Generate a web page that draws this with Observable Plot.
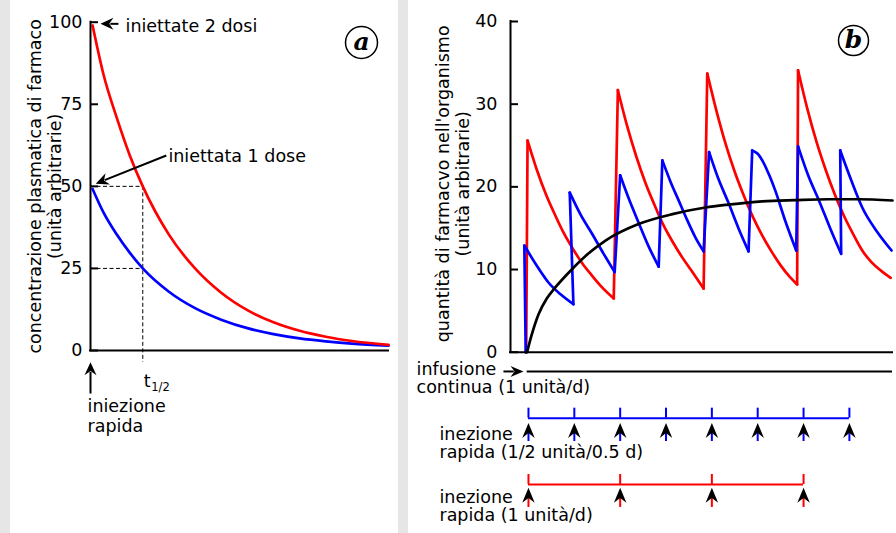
<!DOCTYPE html>
<html><head><meta charset="utf-8">
<script src="https://cdn.jsdelivr.net/npm/d3@7"></script>
<script src="https://cdn.jsdelivr.net/npm/@observablehq/plot@0.6"></script>
<style>
html,body{margin:0;padding:0;background:#e6e6e6;}
#root{position:relative;width:896px;height:533px;background:#e6e6e6;overflow:hidden;}
.panel{position:absolute;top:0;height:533px;background:#fff;}
#pa{left:10px;width:388px;}
#pb{left:408px;width:488px;}
svg{display:block;}
</style></head><body>
<div id="root"><div class="panel" id="pa"></div><div class="panel" id="pb"></div></div>
<script>
// ---------- DATA: panel a (time in half-lives) ----------
const halfLives = [0.04, 0.25, 0.5, 0.75, 1, 1.5, 2, 2.5, 3, 3.5, 4, 4.5, 5, 5.7];
const red2Doses = [99, 84, 71, 59.5, 50, 35.3, 25, 17.6, 12.3, 8.6, 6.0, 4.2, 2.9, 1.7];
const blue1Dose = [49.2, 42, 35.4, 29.8, 25, 17.9, 12.9, 9.4, 6.8, 5.0, 3.7, 2.8, 2.1, 1.5];
const yTicksA = [0, 25, 50, 75, 100];

// ---------- DATA: panel b (time in days) ----------
const redT = [-0.025, -0.01, 0.09, 0.19, 0.29, 0.39, 0.49, 0.59, 0.69, 0.79, 0.93,
  0.975, 1.075, 1.175, 1.275, 1.375, 1.475, 1.575, 1.675, 1.775, 1.91,
  1.95, 2.05, 2.15, 2.25, 2.35, 2.45, 2.55, 2.65, 2.75, 2.85, 2.93,
  2.94, 3.04, 3.14, 3.24, 3.34, 3.44, 3.54, 3.64, 3.74, 3.84, 3.95];
const redV = [0, 25.6, 22.1, 19.1, 16.6, 14.3, 12.4, 10.7, 9.3, 8.0, 6.5,
  31.7, 27.4, 23.7, 20.5, 17.8, 15.3, 13.3, 11.5, 9.9, 7.7,
  33.7, 29.2, 25.2, 21.8, 18.9, 16.3, 14.1, 12.2, 10.5, 9.1, 8.2,
  34.1, 29.5, 25.5, 22.1, 19.1, 16.5, 14.3, 12.3, 10.9, 9.9, 9.0];
const blueT = [-0.03, -0.045, 0.1, 0.22, 0.35, 0.49,
  0.45, 0.57, 0.695, 0.82, 0.94,
  1.0, 1.1, 1.2, 1.31, 1.42,
  1.46, 1.55, 1.64, 1.73, 1.82, 1.91,
  1.97, 2.07, 2.18, 2.29, 2.40,
  2.44, 2.50, 2.56, 2.63, 2.69, 2.80, 2.92,
  2.94, 3.05, 3.17, 3.29, 3.41,
  3.40, 3.52, 3.64, 3.80, 3.96];
const blueV = [0, 12.9, 10.3, 8.4, 7.0, 5.8,
  19.3, 16.6, 14.3, 11.9, 9.7,
  21.4, 18.4, 15.7, 12.8, 10.35,
  23.2, 20.6, 18.3, 16.0, 13.9, 12.2,
  24.2, 21.0, 18.1, 15.0, 12.2,
  24.4, 24.0, 23.0, 21.3, 19.6, 15.9, 12.3,
  24.9, 21.4, 18.3, 15.0, 11.9,
  24.4, 20.8, 17.5, 14.6, 12.3];
const blackT = [-0.015, 0.03, 0.11, 0.2, 0.29, 0.48, 0.65, 0.84, 1.2, 1.57, 1.93, 2.18, 2.55, 2.91, 3.27, 3.6, 3.97];
const blackV = [0, 1.9, 4.6, 6.5, 7.8, 10.1, 11.9, 13.5, 15.5, 16.7, 17.5, 17.85, 18.25, 18.4, 18.5, 18.5, 18.35];
const blueDoseT = [0, 0.5, 1, 1.5, 2, 2.5, 3, 3.5];
const redDoseT = [0, 1, 2, 3];
const yTicksB = [0, 10, 20, 30, 40];

// ---------- helpers ----------
const BLUE = "#0000ff", RED = "#ff0000";
const FS = 17.5;
const rows = (T, V) => T.map((t, i) => ({t, v: V[i]}));
function sawtooth(T, V) {
  const decays = [], jumps = [];
  let seg = 0;
  for (let i = 0; i < T.length; i++) {
    if (i > 0 && V[i] > V[i - 1]) {
      jumps.push({t: T[i - 1], v: V[i - 1], s: i}, {t: T[i], v: V[i], s: i});
      seg++;
    }
    decays.push({t: T[i], v: V[i], s: seg});
  }
  return {decays, jumps};
}
// filled "stealth" arrowhead, tip at origin, pointing up
const stealth = (L, W) => ({draw(ctx) {
  ctx.moveTo(0, 0); ctx.lineTo(W / 2, L); ctx.lineTo(0, L * 0.68); ctx.lineTo(-W / 2, L); ctx.closePath();
}});
const head = stealth(13, 12);
const headB = stealth(15, 12.5);
const style = {fontFamily: "'DejaVu Sans', sans-serif", fontSize: FS + "px", background: "transparent", overflow: "visible", color: "black"};
const dash = {strokeDasharray: "4,2.5", strokeWidth: 1, stroke: "black"};
const txt = (s, o) => Plot.text([s], {text: d => d, textAnchor: "start", lineAnchor: "bottom", fontSize: FS, fill: "black", ...o});
const tickLabels = (ticks, dx) => Plot.text(ticks, {y: d => d, text: d => String(d), frameAnchor: "left", textAnchor: "end", lineAnchor: "middle", dx, fontSize: FS, fill: "black"});
const circled = (letter, dx, dy, r) => [
  Plot.dot([0], {frameAnchor: "top-right", dx, dy, r, stroke: "black", strokeWidth: 1.5, fill: "white"}),
  Plot.text([letter], {text: d => d, frameAnchor: "top-right", textAnchor: "middle", lineAnchor: "middle", dx, dy: dy - 1, fontFamily: "'DejaVu Serif', serif", fontWeight: "bold", fontStyle: "italic", fontSize: 25, fill: "black"})
];
const yTitle = (s, dx, dy) => Plot.text([s], {text: d => d, frameAnchor: "left", textAnchor: "middle", lineAnchor: "middle", rotate: -90, dx, dy, lineHeight: 1.12, fontSize: FS, fill: "black"});

// ---------- panel a ----------
const plotA = Plot.plot({
  width: 388, height: 533,
  marginLeft: 80, marginRight: 10, marginTop: 21.7, marginBottom: 183,
  x: {domain: [0, 5.7], axis: null},
  y: {domain: [0, 100], axis: null, label: null},
  style,
  marks: [
    Plot.ruleY([50], {x1: 0, x2: 1, ...dash}),
    Plot.ruleY([25], {x1: 0, x2: 1, ...dash}),
    Plot.ruleX([1], {y1: 50, y2: -3.6, ...dash}),
    Plot.line(rows(halfLives, blue1Dose), {x: "t", y: "v", curve: "monotone-x", stroke: BLUE, strokeWidth: 2.7}),
    Plot.line(rows(halfLives, red2Doses), {x: "t", y: "v", curve: "monotone-x", stroke: RED, strokeWidth: 2.7}),
    Plot.ruleX([0], {y1: 0, y2: 100, strokeWidth: 2, strokeLinecap: "square"}),
    Plot.ruleY([0], {strokeWidth: 2, strokeLinecap: "square"}),
    Plot.axisY(yTicksA, {tickSize: -8, tickFormat: () => "", strokeWidth: 2, label: null}),
    tickLabels(yTicksA, -8),
    yTitle("concentrazione plasmatica di farmaco\n(unità arbitrarie)", -46, 0),
    // "iniettate 2 dosi"
    Plot.link([0], {x1: 0.535, y1: 99.5, x2: 0.38, y2: 99.5, strokeWidth: 2}),
    Plot.dot([0], {x: 0.19, y: 99.5, symbol: head, rotate: -90, fill: "black", stroke: "none"}),
    txt("iniettate 2 dosi", {x: 0.67, y: 97.1}),
    // "iniettata 1 dose"
    Plot.link([0], {x1: 1.45, y1: 59.4, x2: 0.27, y2: 51.9, strokeWidth: 2}),
    Plot.dot([0], {x: 0.1, y: 50.8, symbol: head, rotate: 248, fill: "black", stroke: "none"}),
    txt("iniettata 1 dose", {x: 1.49, y: 57.3}),
    // bolus arrow
    Plot.link([0], {x1: 0, y1: -13.1, x2: 0, y2: -6.5, strokeWidth: 2}),
    Plot.dot([0], {x: 0, y: -3.56, symbol: head, rotate: 0, fill: "black", stroke: "none"}),
    txt("iniezione\nrapida", {x: -0.057, y: -24.7, lineHeight: 1.1}),
    txt("t", {x: 1.02, y: -11.2}),
    txt("1/2", {x: 1.161, y: -12.2, fontSize: 11.5}),
    ...circled("a", -27, 20.3, 16)
  ]
});
document.getElementById("pa").appendChild(plotA);

// ---------- panel b ----------
const R = sawtooth(redT, redV), B = sawtooth(blueT, blueV);
const plotB = Plot.plot({
  width: 488, height: 533,
  marginLeft: 102, marginRight: 4, marginTop: 21, marginBottom: 181.3,
  x: {domain: [-0.196, 3.97], axis: null},
  y: {domain: [0, 40], axis: null, label: null},
  style,
  marks: [
    Plot.line(R.decays, {x: "t", y: "v", z: "s", curve: "monotone-x", stroke: RED, strokeWidth: 2.7, strokeLinecap: "round"}),
    Plot.line(R.jumps, {x: "t", y: "v", z: "s", stroke: RED, strokeWidth: 2.7, strokeLinecap: "round"}),
    Plot.line(B.decays, {x: "t", y: "v", z: "s", curve: "monotone-x", stroke: BLUE, strokeWidth: 2.7, strokeLinecap: "round"}),
    Plot.line(B.jumps, {x: "t", y: "v", z: "s", stroke: BLUE, strokeWidth: 2.7, strokeLinecap: "round"}),
    Plot.line(rows(blackT, blackV), {x: "t", y: "v", curve: "monotone-x", stroke: "black", strokeWidth: 2.7}),
    Plot.ruleX([-0.196], {y1: 0, y2: 40, strokeWidth: 2, strokeLinecap: "square"}),
    Plot.ruleY([0], {strokeWidth: 2, strokeLinecap: "square"}),
    Plot.axisY(yTicksB, {tickSize: -8, tickFormat: () => "", strokeWidth: 2, label: null}),
    tickLabels(yTicksB, -13),
    yTitle("quantità di farmacvo nell'organismo\n(unità arbitrarie)", -57.5, -3),
    ...circled("b", -39, 19, 15),
    // continuous infusion
    Plot.ruleY([-2.33], {x1: -0.014, x2: 3.97, strokeWidth: 2}),
    Plot.link([0], {x1: -0.273, y1: -2.33, x2: -0.16, y2: -2.33, strokeWidth: 2}),
    Plot.dot([0], {x: -0.0545, y: -2.33, symbol: stealth(13, 11), rotate: 90, fill: "black", stroke: "none"}),
    txt("infusione\ncontinua (1 unità/d)", {x: -1.221, y: -4.99, lineHeight: 1.06}),
    // bolus 1/2 unit every 0.5 d
    Plot.ruleY([-7.98], {x1: blueDoseT[0], x2: blueDoseT[blueDoseT.length - 1], stroke: BLUE, strokeWidth: 2}),
    Plot.ruleX(blueDoseT, {x: d => d, y1: -7.98, y2: -6.77, stroke: BLUE, strokeWidth: 2}),
    Plot.ruleX(blueDoseT, {x: d => d, y1: -10.8, y2: -9.4, stroke: BLUE, strokeWidth: 2}),
    Plot.dot(blueDoseT, {x: d => d, y: -8.55, symbol: headB, fill: "black", stroke: "none"}),
    txt("inezione\nrapida (1/2 unità/0.5 d)", {x: -0.971, y: -12.85, lineHeight: 1.06}),
    // bolus 1 unit every day
    Plot.ruleY([-16.0], {x1: redDoseT[0], x2: redDoseT[redDoseT.length - 1], stroke: RED, strokeWidth: 2}),
    Plot.ruleX(redDoseT, {x: d => d, y1: -16.0, y2: -14.79, stroke: RED, strokeWidth: 2}),
    Plot.ruleX(redDoseT, {x: d => d, y1: -18.78, y2: -17.4, stroke: RED, strokeWidth: 2}),
    Plot.dot(redDoseT, {x: d => d, y: -16.4, symbol: headB, fill: "black", stroke: "none"}),
    txt("inezione\nrapida (1 unità/d)", {x: -0.971, y: -20.47, lineHeight: 1.06})
  ]
});
document.getElementById("pb").appendChild(plotB);
</script>
</body></html>
